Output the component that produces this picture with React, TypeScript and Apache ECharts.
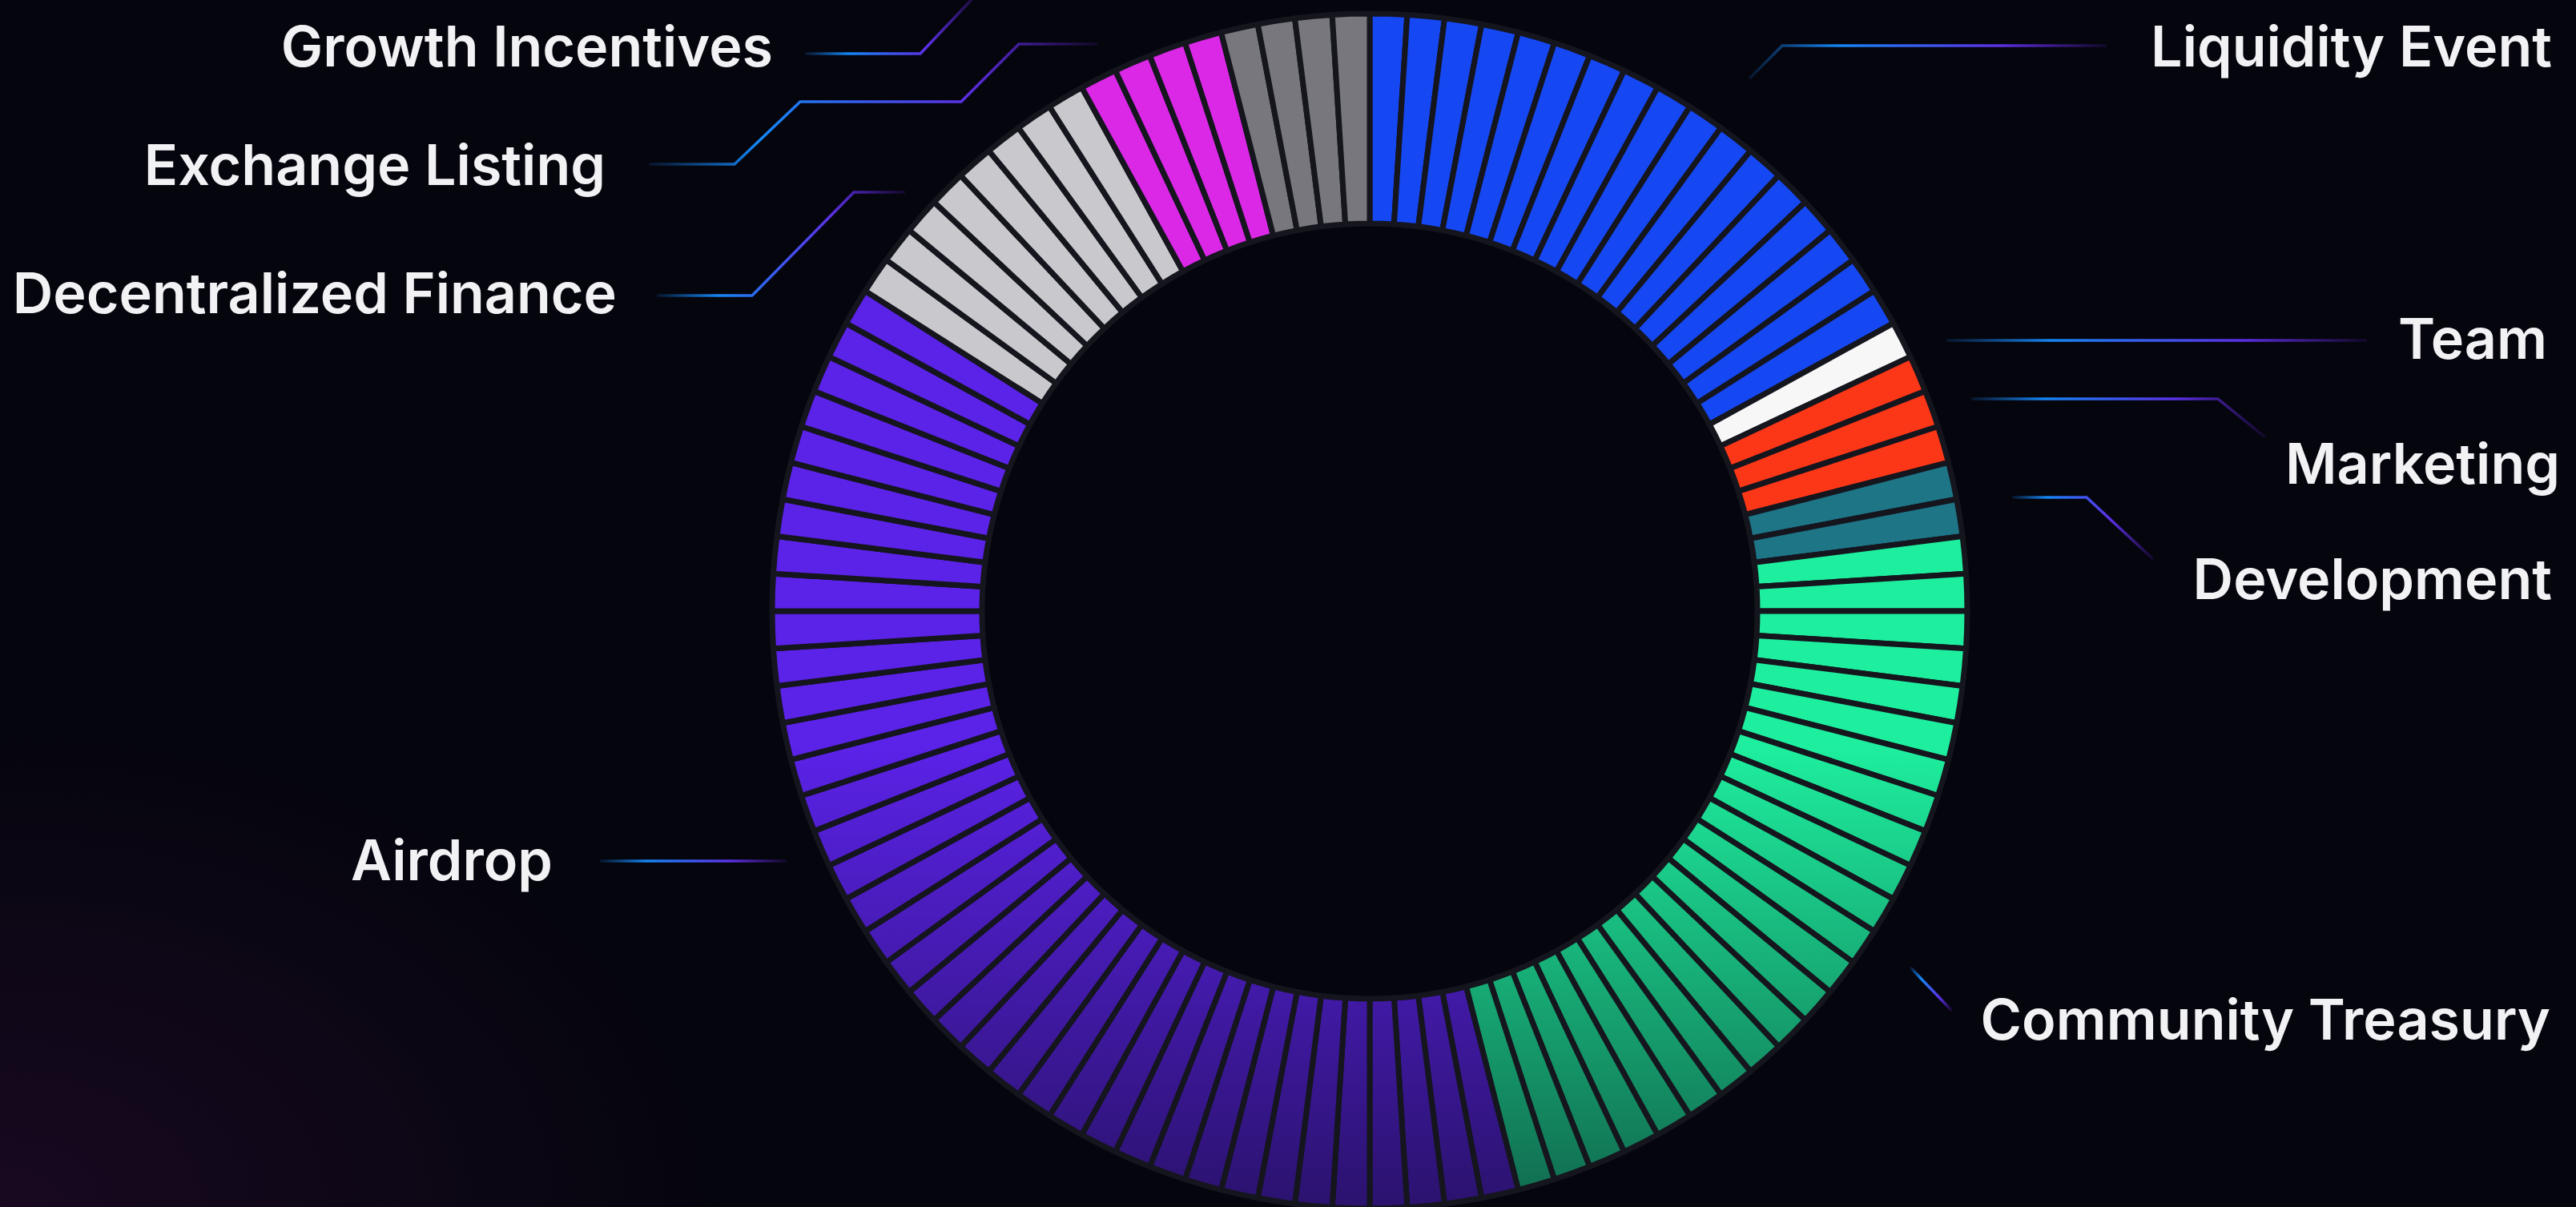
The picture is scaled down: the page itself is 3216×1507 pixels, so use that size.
import React, { useEffect, useRef } from "react";
import * as echarts from "echarts";

// ---- data ----
const CATEGORIES = [
  "Liquidity Event",
  "Team",
  "Marketing",
  "Development",
  "Community Treasury",
  "Airdrop",
  "Decentralized Finance",
  "Exchange Listing",
  "Growth Incentives",
];
const SHARES = [17, 1, 3, 2, 23, 38, 8, 4, 4]; // percent, one ring cell per 1%
const COLORS = ["#1548F2", "#F7F7F7", "#FC3717", "#1D7586", "#1EEF9E", "#5B22E8", "#C9C9CD", "#DA28E6", "#77777D"];

// ---- layout (label anchors and leader lines, in px) ----
const LABEL_ANCHORS: [number, number, "left" | "right"][] = [
  [3186, 57, "right"],
  [3180, 422, "right"],
  [3196, 578, "right"],
  [3186, 722, "right"],
  [3184, 1272, "right"],
  [690, 1073, "right"],
  [770, 365, "right"],
  [756, 205, "right"],
  [965, 57, "right"],
];
const LEADERS: number[][][] = [
  [[2184, 98], [2225, 57], [2630, 57]],
  [[2430, 425], [2955, 425]],
  [[2461, 498], [2769, 498], [2828, 546]],
  [[2512, 621], [2605, 621], [2688, 698]],
  [[2385, 1208], [2437, 1262]],
  [[749, 1075], [982, 1075]],
  [[820, 369], [939, 369], [1066, 240], [1130, 240]],
  [[810, 205], [917, 205], [999, 127], [1200, 127], [1272, 55], [1370, 55]],
  [[1005, 67], [1149, 67], [1222, -10]],
];

function darken(hex: string, f: number) {
  const n = parseInt(hex.slice(1), 16);
  const r = (n >> 16) & 255, g = (n >> 8) & 255, b = n & 255;
  const m = (v: number, t: number) => Math.round(v * f + t * (1 - f));
  return `rgb(${m(r, 6)},${m(g, 6)},${m(b, 18)})`;
}

export default function App() {
  const ref = useRef<HTMLDivElement>(null);
  useEffect(() => {
    document.body.style.margin = "0";
    const chart = echarts.init(ref.current!, null, { renderer: "svg" });

    const data: any[] = [];
    CATEGORIES.forEach((name, i) => {
      const grad = new echarts.graphic.LinearGradient(
        0, 930, 0, 1515,
        [
          { offset: 0, color: COLORS[i] },
          { offset: 1, color: darken(COLORS[i], 0.42) },
        ],
        true
      );
      for (let k = 0; k < SHARES[i]; k++) {
        data.push({ value: 1, name, itemStyle: { color: grad } });
      }
    });

    const lineGrad = (pts: number[][]) => {
      const xs = pts.map((p) => p[0]);
      const x0 = Math.min(...xs);
      const x1 = Math.max(...xs);
      return new echarts.graphic.LinearGradient(
        x0, 0, x1, 0,
        [
          { offset: 0, color: "rgba(22,140,255,0.12)" },
          { offset: 0.25, color: "rgba(22,140,255,0.95)" },
          { offset: 0.7, color: "rgba(95,50,240,0.95)" },
          { offset: 1, color: "rgba(110,40,240,0.12)" },
        ],
        true
      );
    };

    const graphics: any[] = [];
    CATEGORIES.forEach((name, i) => {
      graphics.push({
        type: "polyline",
        silent: true,
        shape: { points: LEADERS[i] },
        style: { stroke: lineGrad(LEADERS[i]), lineWidth: 3.5, fill: null },
      });
      const [x, y, align] = LABEL_ANCHORS[i];
      graphics.push({
        type: "text",
        x,
        y,
        silent: true,
        style: {
          text: name,
          fill: "#F2F2F4",
          fontFamily: "Inter",
          fontWeight: 600,
          fontSize: 70,
          align,
          textAlign: align,
          verticalAlign: "middle",
          textVerticalAlign: "middle",
        },
      });
    });

    chart.setOption({
      animation: false,
      backgroundColor: "transparent",
      graphic: graphics,
      series: [
        {
          type: "pie",
          center: [1710, 763],
          radius: [484, 746],
          startAngle: 90,
          clockwise: true,
          silent: true,
          avoidLabelOverlap: false,
          label: { show: false },
          labelLine: { show: false },
          itemStyle: { borderColor: "#15151E", borderWidth: 7 },
          data,
        },
      ],
    });
    return () => chart.dispose();
  }, []);
  return (
    <div
      ref={ref}
      style={{
        position: "fixed",
        left: 0,
        top: 0,
        width: "3216px",
        height: "1507px",
        background:
          "radial-gradient(ellipse 900px 600px at 0% 100%, rgba(40,12,48,0.55), rgba(5,5,14,0) 100%), #05050E",
      }}
    />
  );
}
